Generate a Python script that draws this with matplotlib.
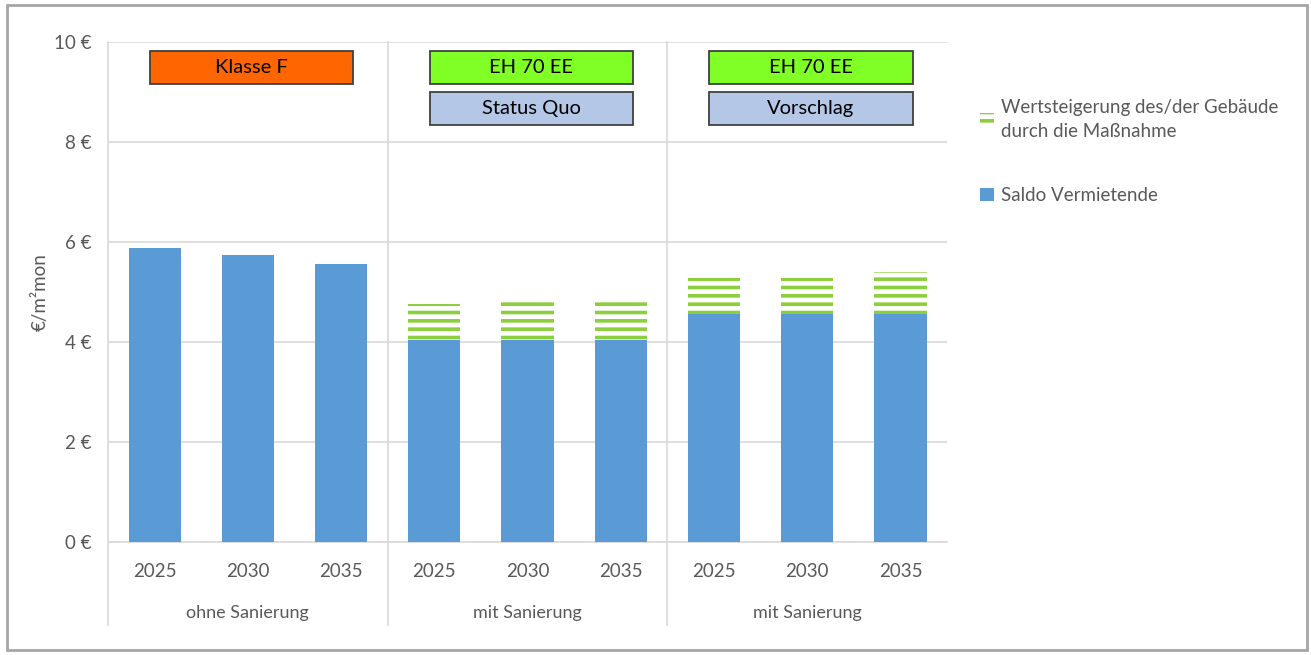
import matplotlib
matplotlib.use("Agg")
import matplotlib.pyplot as plt
import matplotlib.patches as patches
import matplotlib.transforms as mtransforms
import numpy as np

plt.rcParams['font.family'] = ['Lato', 'DejaVu Sans']
plt.rcParams['hatch.linewidth'] = 2.6

# data
years = ["2025", "2030", "2035"] * 3
groups = ["ohne Sanierung", "mit Sanierung", "mit Sanierung"]
saldo = [5.87, 5.73, 5.55, 4.03, 4.03, 4.03, 4.55, 4.55, 4.55]
wertsteigerung = [0.0, 0.0, 0.0, 0.72, 0.79, 0.81, 0.73, 0.73, 0.85]
yticks = [0, 2, 4, 6, 8, 10]

kBlue = '#5b9bd5'
kGreen = '#8ccf3c'
kGrey = '#595959'

fig = plt.figure(figsize=(13.11, 6.55), dpi=100)
ax = fig.add_axes([0.0824, 0.1725, 0.64, 0.7635])

x = np.arange(len(saldo))
ax.bar(x, saldo, width=0.56, color=kBlue, zorder=3, label='Saldo Vermietende')
ax.bar(x, wertsteigerung, width=0.56, bottom=saldo, facecolor='white',
       edgecolor=kGreen, hatch='--', linewidth=0, zorder=3,
       label='Wertsteigerung des/der Gebäude\ndurch die Maßnahme')

ax.set_xlim(-0.5, 8.5)
ax.set_ylim(0, 10)
ax.set_yticks(yticks)
ax.set_yticklabels(['%d €' % v for v in yticks])
ax.grid(axis='y', color='#d9d9d9', linewidth=1.2, zorder=0)
for s in ['top', 'right', 'left']:
    ax.spines[s].set_visible(False)
ax.spines['bottom'].set_color('#d9d9d9')
ax.spines['bottom'].set_linewidth(1.2)
ax.tick_params(axis='both', length=0, colors=kGrey, labelsize=13.5)
ax.tick_params(axis='x', pad=15)
ax.tick_params(axis='y', pad=12)
ax.set_xticks(x)
ax.set_xticklabels(years)
fig.text(0.031, 0.554, '€/m²mon', rotation=90, ha='center', va='center',
         color=kGrey, fontsize=13.5)

# group separators extending into the category area
trans = mtransforms.blended_transform_factory(ax.transData, ax.transAxes)
for xs in [-0.5, 2.5, 5.5]:
    ax.plot([xs, xs], [-0.166, 1.0], color='#d9d9d9', lw=1.2, transform=trans,
            clip_on=False, zorder=1)
for i, g in enumerate(groups):
    ax.text(3 * i + 1, -0.142, g, transform=trans, ha='center', va='center',
            color=kGrey, fontsize=13)

# scenario boxes above each group
def wide_box(xc, yc, text, fc):
    r = patches.Rectangle((xc - 1.05, yc - 0.033), 2.18, 0.066, transform=trans,
                          fc=fc, ec='#404040', lw=1.3, zorder=5, clip_on=False)
    ax.add_patch(r)
    ax.text(xc + 0.04, yc, text, transform=trans, ha='center', va='center',
            fontsize=14.5, color='black', zorder=6)

wide_box(1, 0.949, 'Klasse F', '#ff6600')
wide_box(4, 0.949, 'EH 70 EE', '#80ff26')
wide_box(4, 0.866, 'Status Quo', '#b4c7e7')
wide_box(7, 0.949, 'EH 70 EE', '#80ff26')
wide_box(7, 0.866, 'Vorschlag', '#b4c7e7')

handles, labels = ax.get_legend_handles_labels()
leg = fig.legend(handles[::-1], labels[::-1], loc='upper left',
                 bbox_to_anchor=(0.735, 0.875), frameon=False, fontsize=13.5,
                 labelspacing=2.5, handlelength=0.7, handleheight=0.7,
                 handletextpad=0.4)
for t in leg.get_texts():
    t.set_color(kGrey)
    t.set_linespacing(1.5)

# outer frame of the picture
fig.add_artist(patches.Rectangle((0.005, 0.008), 0.992, 0.984, transform=fig.transFigure,
                                 fill=False, ec='#a6a6a6', lw=2))

fig.savefig('out.png', dpi=100)
